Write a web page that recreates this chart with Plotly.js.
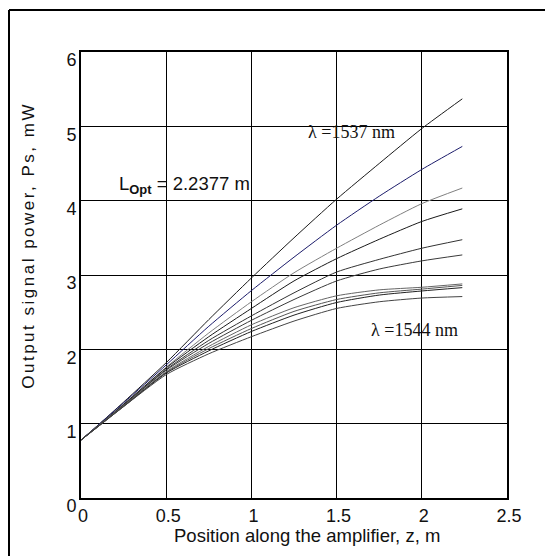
<!DOCTYPE html>
<html>
<head>
<meta charset="utf-8">
<script src="https://cdn.plot.ly/plotly-3.0.1.min.js"></script>
<style>
html,body{margin:0;padding:0;background:#fff;}
#chart{width:553px;height:556px;}
</style>
</head>
<body>
<div id="chart"></div>
<script>
// Position along the amplifier, z (m)
const z = [0, 0.1, 0.25, 0.5, 0.75, 1.0, 1.25, 1.5, 1.75, 2.0, 2.2377];

// Output signal power (mW), one series per signal wavelength, from 1537 nm (top) to 1544 nm (bottom)
const ps1  = [0.78, 0.98, 1.29, 1.82, 2.40, 2.96, 3.50, 4.02, 4.50, 4.97, 5.37];
const ps2  = [0.78, 0.98, 1.28, 1.79, 2.31, 2.79, 3.24, 3.67, 4.06, 4.42, 4.73];
const ps3  = [0.78, 0.97, 1.26, 1.76, 2.22, 2.64, 3.03, 3.36, 3.67, 3.96, 4.17];
const ps4  = [0.78, 0.97, 1.26, 1.75, 2.17, 2.55, 2.92, 3.22, 3.48, 3.72, 3.89];
const ps5  = [0.78, 0.97, 1.25, 1.73, 2.12, 2.45, 2.76, 3.04, 3.21, 3.36, 3.475];
const ps6  = [0.78, 0.97, 1.25, 1.72, 2.08, 2.39, 2.67, 2.92, 3.08, 3.19, 3.27];
const ps7  = [0.78, 0.97, 1.24, 1.70, 2.04, 2.33, 2.56, 2.72, 2.80, 2.835, 2.88];
const ps8  = [0.78, 0.96, 1.24, 1.69, 2.01, 2.28, 2.51, 2.67, 2.76, 2.81, 2.86];
const ps9  = [0.78, 0.96, 1.23, 1.68, 1.98, 2.24, 2.46, 2.63, 2.73, 2.785, 2.83];
const ps10 = [0.78, 0.96, 1.23, 1.66, 1.94, 2.17, 2.38, 2.55, 2.64, 2.69, 2.71];

const series = [ps1, ps2, ps3, ps4, ps5, ps6, ps7, ps8, ps9, ps10];
const colors = ['#1a1a1a', '#1c1c6b', '#808080', '#1a1a1a', '#333333',
                '#3a3a3a', '#666666', '#555555', '#222222', '#444444'];

const xTicks = [0, 0.5, 1, 1.5, 2, 2.5];
const xTickText = ['0', '0.5', '1', '1.5', '2', '2.5'];
const yTicks = [0, 1, 2, 3, 4, 5, 6];
const yTickText = ['0', '1', '2', '3', '4', '5', '6'];

const traces = series.map((s, i) => ({
  x: z, y: s, type: 'scatter', mode: 'lines',
  line: {color: colors[i], width: 1, shape: 'spline', smoothing: 0.6},
  hoverinfo: 'skip', showlegend: false
}));

const sans = '"Liberation Sans", Arial, sans-serif';
const serif = '"Liberation Serif", "Times New Roman", serif';

const L = 81, R = 46, T = 52, B = 58, W = 553, H = 556;
const pw = W - L - R, ph = H - T - B;
const px = v => (v - L) / pw;
const py = v => (H - B - v) / ph;

const layout = {
  width: W, height: H,
  margin: {l: L, r: R, t: T, b: B, pad: 0},
  paper_bgcolor: '#fff', plot_bgcolor: '#fff',
  showlegend: false,
  xaxis: {
    range: [0, 2.5], tickvals: xTicks, ticktext: xTickText,
    showgrid: true, gridcolor: '#000', gridwidth: 1,
    showline: true, linecolor: '#000', linewidth: 2, mirror: true,
    zeroline: false, ticks: '', ticklabelstandoff: 0, ticklabelshift: 2,
    tickfont: {family: sans, size: 18, color: '#111'},
    fixedrange: true
  },
  yaxis: {
    range: [0, 6], tickvals: yTicks, ticktext: yTickText,
    showgrid: true, gridcolor: '#000', gridwidth: 1,
    showline: true, linecolor: '#000', linewidth: 2, mirror: true,
    zeroline: false, ticks: '', ticklabelstandoff: -1, ticklabelshift: 8,
    tickfont: {family: sans, size: 18, color: '#111'},
    fixedrange: true
  },
  annotations: [
    {xref: 'paper', yref: 'paper', x: px(307), y: py(535), xanchor: 'center', yanchor: 'middle',
     text: 'Position along the amplifier, z, m', showarrow: false,
     font: {family: sans, size: 18.5, color: '#111'}},
    {xref: 'paper', yref: 'paper', x: px(28), y: py(246), xanchor: 'center', yanchor: 'middle',
     text: 'Output signal power, Ps, mW', textangle: -90, showarrow: false,
     font: {family: sans, size: 17, color: '#111'}},
    {xref: 'x', yref: 'y', x: 0.21, y: 4.21, xanchor: 'left', yanchor: 'middle',
     text: 'L<sub><b>Opt</b></sub> = 2.2377 m', showarrow: false,
     font: {family: sans, size: 18.5, color: '#111'}},
    {xref: 'x', yref: 'y', x: 1.32, y: 4.93, xanchor: 'left', yanchor: 'middle',
     text: 'λ =1537 nm', showarrow: false,
     font: {family: serif, size: 18, color: '#111'}},
    {xref: 'x', yref: 'y', x: 1.69, y: 2.26, xanchor: 'left', yanchor: 'middle',
     text: 'λ =1544 nm', showarrow: false,
     font: {family: serif, size: 18, color: '#111'}}
  ],
  shapes: [
    {type: 'line', xref: 'paper', yref: 'paper', x0: px(9), x1: px(9), y0: py(10), y1: py(560),
     line: {color: '#000', width: 2}},
    {type: 'line', xref: 'paper', yref: 'paper', x0: px(9), x1: px(545), y0: py(10), y1: py(10),
     line: {color: '#000', width: 2}}
  ]
};

Plotly.newPlot('chart', traces, layout, {displayModeBar: false, staticPlot: true}).then(() => {
  // widen letter spacing of the y-axis title, as in the reference
  document.querySelectorAll('.annotation-text').forEach(t => {
    if (t.textContent.indexOf('Output signal') === 0) {
      t.style.letterSpacing = '2.5px';
    }
  });
});
</script>
</body>
</html>
